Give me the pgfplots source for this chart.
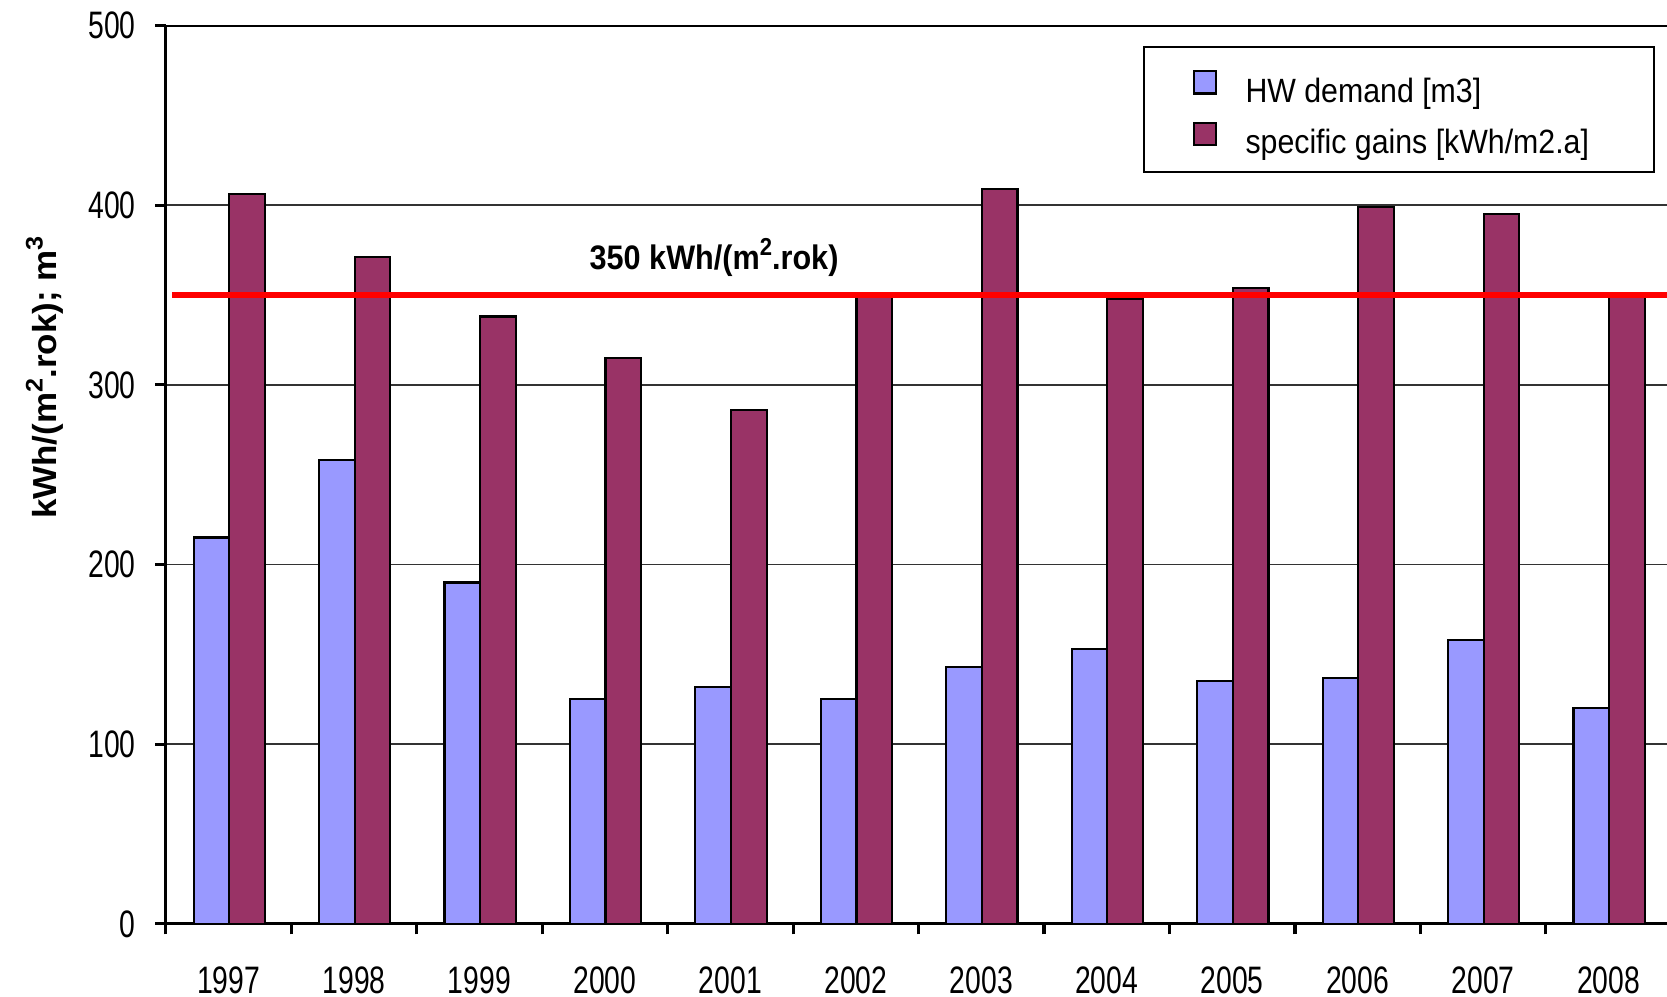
\documentclass[border=0pt]{standalone}
\usepackage{pgfplots}
\pgfplotsset{compat=1.18}
\usepackage{pgfplotstable}
\usepackage{fontspec}
\setmainfont{Liberation Sans}
\newfontfamily\ticksfont{Liberation Sans}[FakeStretch=0.74]
\newfontfamily\narrowfont{Liberation Sans}[FakeStretch=0.9]
\newfontfamily\labelfont{Liberation Sans}[FakeStretch=1.05]
% raised, smaller exponent as in the unit labels
\newcommand\sups[1]{\raisebox{0.42em}{\scalebox{0.72}{#1}}}

\definecolor{hwblue}{RGB}{153,153,255}
\definecolor{gainred}{RGB}{153,51,102}

% yearly values: hot water demand [m3] and specific solar gains [kWh/m2.a]
\pgfplotstableread{
idx year hw gains
0  1997 215 406
1  1998 258 371
2  1999 190 338
3  2000 125 315
4  2001 132 286
5  2002 125 351
6  2003 143 409
7  2004 153 348
8  2005 135 354
9  2006 137 399
10 2007 158 395
11 2008 120 349
}\yearly

\begin{document}
\begin{tikzpicture}
\begin{axis}[
  scale only axis,
  width=423.6pt, height=253.5pt,
  xmin=-0.5, xmax=11.466,
  ymin=0, ymax=500,
  axis x line*=bottom, axis y line*=left,
  axis line style={black, line width=0.9pt},
  xtick={0,...,11},
  xticklabels={1997,1998,1999,2000,2001,2002,2003,2004,2005,2006,2007,2008},
  major x tick style={draw=none},
  minor xtick={-0.5,0.5,...,10.5},
  ytick={0,100,...,500},
  tick align=outside,
  major tick length=3pt, minor tick length=3pt,
  tick style={black, line width=0.9pt},
  ymajorgrids,
  grid style={black!80, line width=0.4pt},
  /pgf/number format/assume math mode=true,
  xticklabel style={font=\ticksfont\fontsize{10.8}{12}\selectfont, yshift=-5.5pt},
  yticklabel style={font=\ticksfont\fontsize{10.8}{12}\selectfont, xshift=-2pt},
  ylabel={\labelfont\bfseries kWh/(m\sups{2}.rok); m\sups{3}},
  ylabel style={at={([xshift=-34.2pt]rel axis cs:0,0.608)}, anchor=center, font=\fontsize{9.4}{10}\selectfont},
  ybar, bar width=0.284,
  legend style={at={(0.651,0.9775)}, anchor=north west, draw=black, line width=0.6pt,
    font=\narrowfont\fontsize{9.5}{11}\selectfont, inner xsep=13.7pt, inner ysep=3.2pt,
    row sep=0.2pt, column sep=6pt, cells={anchor=west},
    nodes={text height=10.4pt, text depth=0pt}},
  legend image code/.code={\draw[#1, line width=0.6pt, draw=black] (0pt,-2.8pt) rectangle (6.3pt,3.5pt);},
]
\addplot[fill=hwblue, draw=black, line width=0.6pt, bar shift=-0.137] table[x=idx, y=hw] {\yearly};
\addlegendentry{HW demand [m3]}
\addplot[fill=gainred, draw=black, line width=0.6pt, bar shift=0.147] table[x=idx, y=gains] {\yearly};
\addlegendentry{specific gains [kWh/m2.a]\rule{2.7pt}{0pt}}
% 350 kWh/(m2.rok) reference level
\addplot[sharp plot, red, line width=1.8pt, forget plot] coordinates {(-0.449,350) (11.466,350)};
\node[font=\narrowfont\bfseries\fontsize{9.6}{11}\selectfont] at (axis cs:3.87,371) {350 kWh/(m\sups{2}.rok)};
\draw[black, line width=0.9pt] (rel axis cs:0,1) -- (rel axis cs:1,1);
\coordinate (bl) at (rel axis cs:0,0);
\coordinate (tr) at (rel axis cs:1,1);
\end{axis}
\pgfresetboundingbox
\path ([shift={(-46.8pt,-20.4pt)}]bl) rectangle ([shift={(0pt,7.2pt)}]tr);
\end{tikzpicture}
\end{document}
